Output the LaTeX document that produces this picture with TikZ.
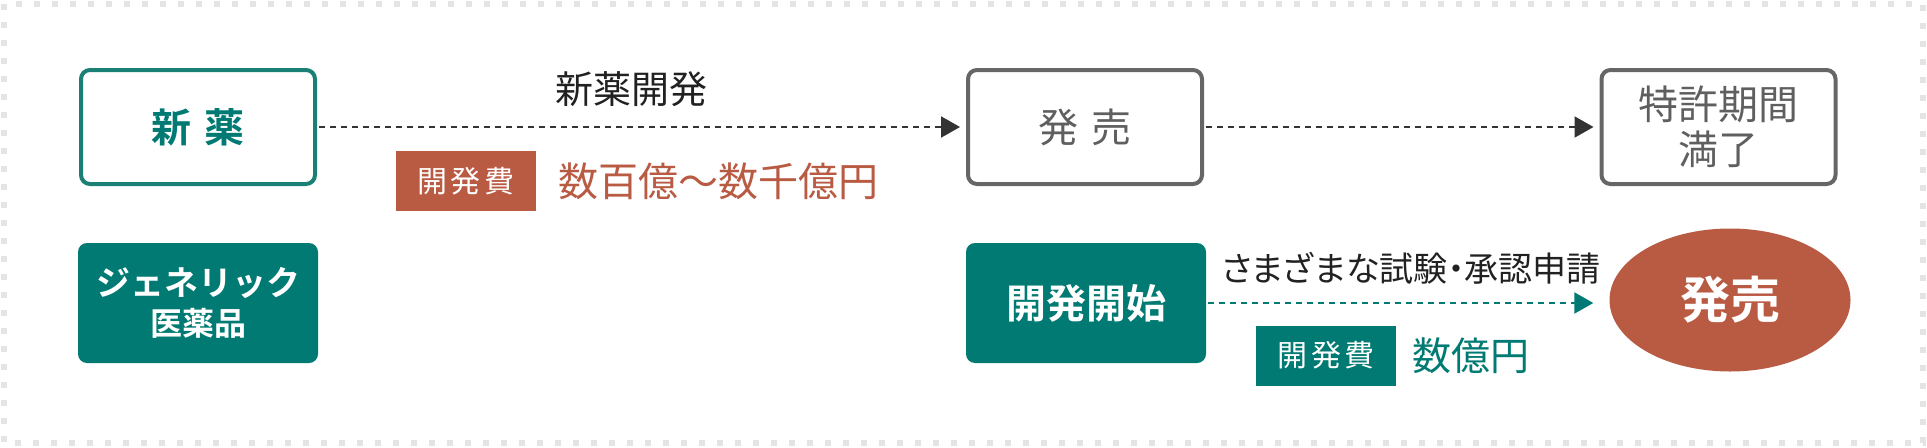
\documentclass[tikz,border=0pt]{standalone}
\usepackage{fontspec}
\setmainfont{Noto Sans CJK JP}[BoldFont={Noto Sans CJK JP Bold}]
\usetikzlibrary{positioning,arrows.meta,shapes.geometric}
\definecolor{drugteal}{RGB}{0,122,114}
\definecolor{drugtealline}{RGB}{26,128,118}
\definecolor{drugred}{RGB}{185,90,67}
\definecolor{boxgray}{RGB}{102,102,102}
\definecolor{textgray}{RGB}{95,95,95}
\definecolor{framegray}{RGB}{228,228,228}
\definecolor{arrowgray}{RGB}{51,51,51}
\newcommand{\fsz}[1]{\fontsize{#1}{#1}\selectfont}

\begin{document}
\begin{tikzpicture}[x=1pt,y=-1pt,
    stagebox/.style={rectangle, rounded corners=9pt, line width=4pt, minimum width=234pt, minimum height=114pt, inner sep=0pt, align=center},
    solidbox/.style={rectangle, rounded corners=9pt, fill=drugteal, minimum width=240pt, minimum height=120pt, inner sep=0pt, align=center, text=white},
    costtag/.style={rectangle, minimum width=140pt, minimum height=60pt, inner sep=0pt, text=white, font=\fsz{30}},
    flow/.style={line width=2pt, dash pattern=on 6pt off 5pt, -{Triangle[length=19pt,width=21pt]}}]

        \useasboundingbox (0,0) rectangle (1927,447);
        \draw[framegray, line width=6pt, dash pattern=on 6pt off 12pt] (4,4) rectangle (1923,443);

        % upper row: new drug
        \node[stagebox, draw=drugtealline, text=drugteal, font=\fsz{40}\bfseries] (newdrug) at (198,127) {新\hspace{13pt}薬};
        \node[stagebox, draw=boxgray, text=textgray, font=\fsz{40}] (launch) at (1085,127) {発\hspace{13pt}売};
        \node[stagebox, draw=boxgray, text=textgray, font=\fontsize{40}{45}\selectfont] (expiry) at (1718.5,127) {特許期間\\満了};

        \draw[flow, arrowgray, shorten <=2pt, shorten >=6pt] (newdrug.east) -- (launch.west);
        \draw[flow, arrowgray, shorten <=2pt, shorten >=6pt] (launch.east) -- (expiry.west);

        \node[font=\fsz{38}, text=black!87] (devlabel) at (631,89) {新薬開発};
        \node[costtag, fill=drugred] (costnew) at (466,181) {開\hspace{4pt}発\hspace{4pt}費};
        \node[right=22pt of costnew, inner sep=0pt, text=drugred, font=\fsz{40}] (costnewval) {数百億〜数千億円};

        % lower row: generic
        \node[solidbox, font=\bfseries] (generic) at (198,303) {\fontsize{34}{48}\selectfont ジェネリック\\[9pt]\fontsize{32}{48}\selectfont 医薬品};
        \node[solidbox, font=\fsz{40}\bfseries] (devstart) at (1086,303) {開発開始};
        \node[ellipse, fill=drugred, minimum width=241pt, minimum height=143pt, inner sep=0pt, text=white, font=\fsz{50}\bfseries] (release) at (1730,300) {発売};

        \draw[flow, drugteal, shorten <=2pt, shorten >=16pt] (devstart.east) -- (devstart.east -| release.west);

        \node[font=\fsz{34}\addfontfeatures{RawFeature=+palt}, text=black!87] (triallabel) at (1411,268) {さまざまな試験・承認申請};
        \node[costtag, fill=drugteal] (coststart) at (1326,355.5) {開\hspace{4pt}発\hspace{4pt}費};
        \node[right=16pt of coststart, inner sep=0pt, text=drugteal, font=\fsz{39}] (coststartval) {数億円};

\end{tikzpicture}
\end{document}
